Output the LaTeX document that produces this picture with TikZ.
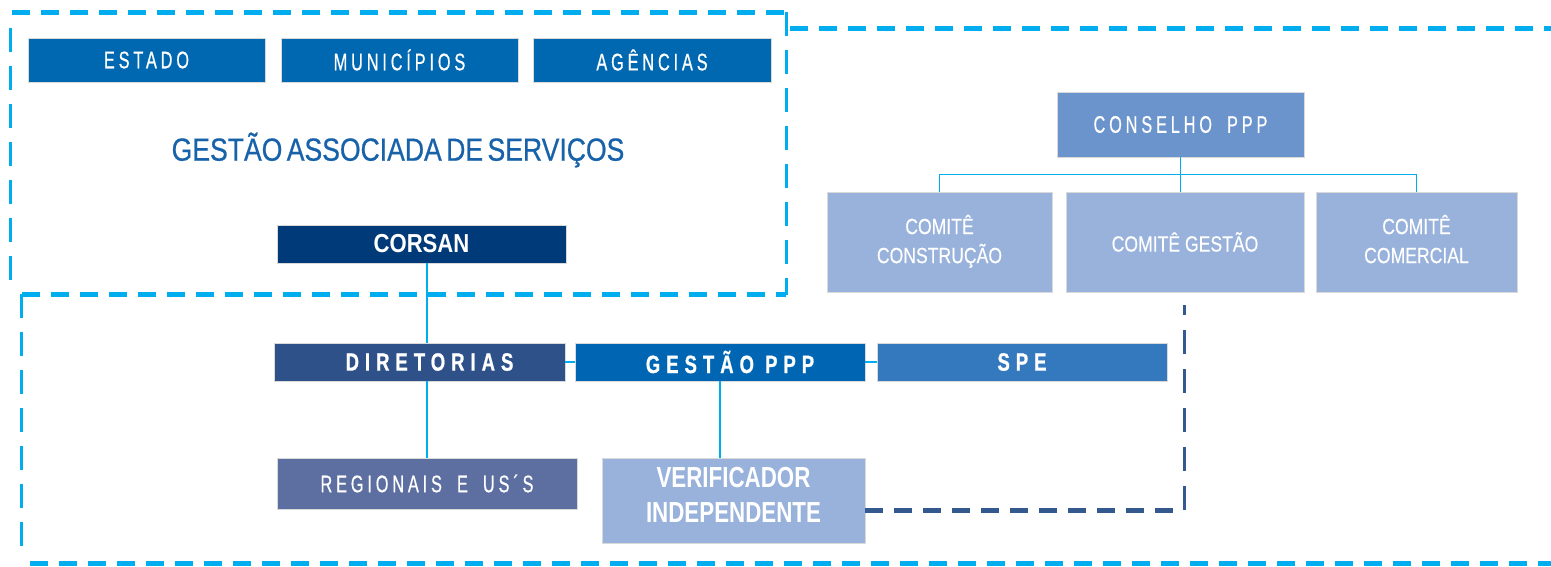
\documentclass[tikz,border=0pt]{standalone}
\usepackage{fontspec}
\setmainfont{Liberation Sans}
\newfontfamily\fnarrow[FakeStretch=0.8,FakeBold=0.3]{Liberation Sans}
\newfontfamily\fassoc[FakeStretch=0.83,WordSpace=0.6,FakeBold=0.6]{Liberation Sans}
\newfontfamily\fspaced[FakeStretch=0.68,LetterSpace=16,WordSpace=1.8,FakeBold=0.6]{Liberation Sans}
\newfontfamily\fcorsan[FakeStretch=0.85]{Liberation Sans}
\newfontfamily\fverif[FakeStretch=0.77]{Liberation Sans}
\newfontfamily\fbspaced[FakeStretch=0.74,LetterSpace=24,BoldFeatures={FakeBold=0.8}]{Liberation Sans}
\usetikzlibrary{calc}
\definecolor{dashblue}{HTML}{00AEEF}
\definecolor{darkdash}{HTML}{34598F}
\definecolor{cestado}{HTML}{0067B1}
\definecolor{cassoc}{HTML}{1862AA}
\definecolor{cconselho}{HTML}{6B93CC}
\definecolor{ccomite}{HTML}{98B2DC}
\definecolor{ccorsan}{HTML}{003A78}
\definecolor{cdiret}{HTML}{2E5189}
\definecolor{cgppp}{HTML}{0066B3}
\definecolor{cspe}{HTML}{3478BE}
\definecolor{cregion}{HTML}{5D6FA0}
\newcommand{\liftby}[1]{\rule[-#1]{0pt}{0pt}}
\tikzset{
  box/.style={rectangle, inner sep=0pt, text=white, align=center, draw=white!85!black, line width=0.6pt},
  spacedtxt/.style={font=\fspaced\fontsize{24}{28}\selectfont},
  boldspaced/.style={font=\fbspaced\bfseries\fontsize{25}{28}\selectfont},
  comitetxt/.style={font=\fnarrow\fontsize{22}{29}\selectfont},
  conn/.style={draw=dashblue, line width=1.5pt},
  hdash/.style={draw=dashblue, line width=5pt, dash pattern=on 18pt off 11pt},
  vdash/.style={draw=dashblue, line width=3pt, dash pattern=on 24pt off 14pt},
  hdark/.style={draw=darkdash, line width=5pt, dash pattern=on 18pt off 11pt},
  vdark/.style={draw=darkdash, line width=3pt, dash pattern=on 24pt off 15pt},
}
\begin{document}
\begin{tikzpicture}[x=1pt,y=-1pt]
\useasboundingbox (0,0) rectangle (1551,566);
% dashed regions
\draw[hdash] (12,12) -- (786,12);
\draw[vdash] (10,28) -- (10,287);
\draw[vdash] (786,12) -- (786,295);
\draw[hdash] (22,294) -- (786,294);
\draw[hdash] (790,28) -- (1560,28);
\draw[vdash] (21,294) -- (21,556);
\draw[hdash] (30,563) -- (1560,563);

% top-left group
\node[box, spacedtxt, fill=cestado, minimum width=237pt, minimum height=44pt] (estado) at (146.5,60) {ESTADO};
\node[box, spacedtxt, fill=cestado, minimum width=237pt, minimum height=44pt] (municipios) at (399.5,60) {MUNICÍPIOS};
\node[box, spacedtxt, fill=cestado, minimum width=238pt, minimum height=44pt] (agencias) at (652,60) {AGÊNCIAS};
\node[text=cassoc, inner sep=0pt, font=\fassoc\fontsize{32}{36}\selectfont] (gestaoassoc) at (398,150)
  {GESTÃO ASSOCIADA DE SERVIÇOS};

% council
\node[box, spacedtxt, fill=cconselho, minimum width=247pt, minimum height=65pt] (conselho) at (1180.5,124.5) {CONSELHO PPP};
\node[box, comitetxt, fill=ccomite, minimum width=225pt, minimum height=100pt] (cconst) at (939.5,242) {COMITÊ\\CONSTRUÇÃO\liftby{6pt}};
\node[box, comitetxt, fill=ccomite, minimum width=238pt, minimum height=100pt] (cgest) at (1185,242) {COMITÊ GESTÃO};
\node[box, comitetxt, fill=ccomite, minimum width=201pt, minimum height=100pt] (ccom) at (1416.5,242) {COMITÊ\\COMERCIAL\liftby{6pt}};
\coordinate (cbus) at ($(conselho.south)!0.5!(cgest.north)$);
\draw[conn] (conselho.south) -- (conselho.south |- cgest.north);
\draw[conn] (cconst.north) -- (cconst.north |- cbus) -- (ccom.north |- cbus) -- (ccom.north);

% corsan tree
\node[box, fill=ccorsan, minimum width=289pt, minimum height=38pt, font=\fcorsan\bfseries\fontsize{26}{30}\selectfont] (corsan) at (421.5,244) {CORSAN};
\node[box, boldspaced, fill=cdiret, minimum width=291pt, minimum height=38pt] (diretorias) at (419.5,362) {\hspace*{20pt}DIRETORIAS};
\node[box, boldspaced, fill=cgppp, minimum width=290pt, minimum height=38pt] (gestaoppp) at (720,362) {\hspace*{20pt}GESTÃO PPP};
\node[box, boldspaced, fill=cspe, minimum width=290pt, minimum height=38pt] (spe) at (1022,362) {SPE};
\node[box, spacedtxt, fill=cregion, minimum width=300pt, minimum height=51pt] (regionais) at (427,483.5) {REGIONAIS E US´S};
\node[box, fill=ccomite, minimum width=263pt, minimum height=85pt, font=\fverif\bfseries\fontsize{29}{35}\selectfont] (verificador) at (733.5,500.5) {VERIFICADOR\\INDEPENDENTE\liftby{11pt}};

\draw[conn] (regionais.north |- corsan.south) -- (regionais.north |- diretorias.north);
\draw[conn] (regionais.north |- diretorias.south) -- (regionais.north);
\draw[conn] (diretorias.east) -- (gestaoppp.west);
\draw[conn] (gestaoppp.east) -- (spe.west);
\draw[conn] (gestaoppp.south) -- (gestaoppp.south |- verificador.north);

% dark dashed bracket
\coordinate (dcorner) at (1184,510);
\coordinate (dtop) at (1184,305);
\draw[hdark] (verificador.east |- dcorner) -- (dcorner);
\draw[vdark] (dcorner) -- (dtop);
\end{tikzpicture}
\end{document}
